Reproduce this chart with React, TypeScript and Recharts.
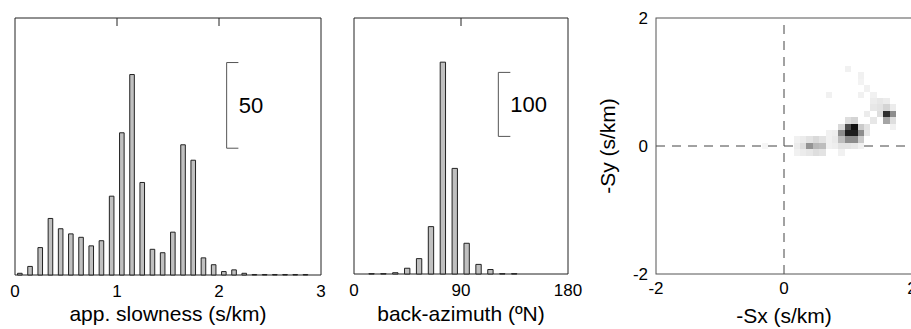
import { ComposedChart, Bar, XAxis, YAxis, ReferenceLine, ReferenceArea, ScatterChart, Scatter, Label } from 'recharts';

const FONT = '"Liberation Sans", Arial, Helvetica, sans-serif';

// app. slowness histogram (0.1 s/km bins)
const slownessBins = [
  0.05, 0.15, 0.25, 0.35, 0.45, 0.55, 0.65, 0.75, 0.85, 0.95,
  1.05, 1.15, 1.25, 1.35, 1.45, 1.55, 1.65, 1.75, 1.85, 1.95,
  2.05, 2.15, 2.25, 2.35, 2.45, 2.55, 2.65, 2.75, 2.85, 2.95,
];
const slownessCounts = [
  1, 5, 16, 33, 27, 24, 22, 17, 20, 46,
  83, 117, 54, 15, 13, 25, 76, 67, 10, 6,
  2, 3, 1, 0.3, 0.3, 0.3, 0.3, 0.3, 0.3, 0,
];
const slownessTicks = [0, 1, 2, 3];
const slownessTopTicks = [1, 2];

// back-azimuth histogram (10 deg bins)
const azimuthBins = [5, 15, 25, 35, 45, 55, 65, 75, 85, 95, 105, 115, 125, 135, 145, 155, 165, 175];
const azimuthCounts = [0, 0.5, 0.5, 2, 9, 24, 74, 331, 165, 48, 15, 7, 0.5, 0.5, 0, 0, 0, 0];
const azimuthTicks = [0, 90, 180];
const azimuthTopTicks = [90];

// slowness vector density, cells of 0.1 s/km: [-Sx, -Sy, darkness 0..1]
const heatCells: [number, number, number][] = [
  [-0.3, 0.0, 0.04],
  [0.2, 0.1, 0.06], [0.2, 0.0, 0.08], [0.2, -0.1, 0.06],
  [0.3, 0.1, 0.08], [0.3, 0.0, 0.14], [0.3, -0.1, 0.08],
  [0.4, 0.1, 0.12], [0.4, 0.0, 0.45], [0.4, -0.1, 0.1],
  [0.5, 0.1, 0.16], [0.5, 0.0, 0.3], [0.5, -0.1, 0.14],
  [0.6, 0.1, 0.12], [0.6, 0.0, 0.28], [0.6, -0.1, 0.12],
  [0.7, 0.2, 0.06], [0.7, 0.1, 0.06], [0.7, 0.0, 0.06], [0.7, 0.8, 0.06],
  [0.8, 0.2, 0.07], [0.8, 0.1, 0.09], [0.8, 0.0, 0.07],
  [0.9, 0.3, 0.16], [0.9, 0.2, 0.48], [0.9, 0.1, 0.28], [0.9, 0.0, 0.12], [0.9, -0.1, 0.06],
  [1.0, 0.4, 0.14], [1.0, 0.3, 0.75], [1.0, 0.2, 0.95], [1.0, 0.1, 0.48], [1.0, 0.0, 0.12], [1.0, 1.2, 0.06],
  [1.1, 0.4, 0.18], [1.1, 0.3, 1.0], [1.1, 0.2, 0.95], [1.1, 0.1, 0.48], [1.1, 0.0, 0.1],
  [1.2, 0.3, 0.22], [1.2, 0.2, 0.48], [1.2, 0.1, 0.22], [1.2, 0.0, 0.06], [1.2, 0.8, 0.06], [1.2, 1.0, 0.05], [1.2, 1.1, 0.06],
  [1.3, 0.5, 0.08], [1.3, 0.3, 0.12], [1.3, 0.2, 0.1], [1.3, 0.9, 0.06],
  [1.4, 0.8, 0.06], [1.4, 0.7, 0.08], [1.4, 0.6, 0.1], [1.4, 0.4, 0.1],
  [1.5, 0.7, 0.1], [1.5, 0.6, 0.12], [1.5, 0.5, 0.14],
  [1.6, 0.7, 0.08], [1.6, 0.6, 0.18], [1.6, 0.5, 0.88], [1.6, 0.4, 0.38],
  [1.7, 0.6, 0.08], [1.7, 0.5, 0.48], [1.7, 0.4, 0.14], [1.7, 0.3, 0.06],
];
const sxTicks = [-2, 0, 2];
const syTicks = [-2, 0, 2];

const slownessData = slownessBins.map((bin, i) => ({ bin, count: slownessCounts[i] }));
const azimuthData = azimuthBins.map((bin, i) => ({ bin, count: azimuthCounts[i] }));
const heatData = heatCells.map(([sx, sy, level]) => ({ sx, sy, level }));

const tickStyle = { fontSize: 17, fill: '#000' };
const titleStyle = { fontSize: 21, fill: '#000' };

// short inward tick hanging from the top frame
const TopTick = (props: any) => {
  const { cx, cy } = props;
  return <line x1={cx} y1={cy} x2={cx} y2={cy + 8} stroke="#222" strokeWidth={1} />;
};

type HistProps = {
  data: { bin: number; count: number }[];
  width: number;
  margin: { top: number; right: number; bottom: number; left: number };
  axisHeight: number;
  xDomain: [number, number];
  yMax: number;
  ticks: number[];
  topTicks: number[];
  title: string;
  scale: { x: number; arm: number; from: number; size: number };
};

const Histogram = ({ data, width, margin, axisHeight, xDomain, yMax, ticks, topTicks, title, scale }: HistProps) => {
  const plotWidth = width - margin.left - margin.right;
  const barSize = plotWidth / data.length;
  const scaleTop = scale.from + scale.size;
  const tickData = topTicks.map((t) => ({ bin: t, count: yMax }));
  return (
    <ComposedChart width={width} height={329} data={data} margin={margin}>
      <XAxis
        dataKey="bin"
        type="number"
        domain={xDomain}
        ticks={ticks}
        height={axisHeight}
        axisLine={false}
        tickLine={false}
        tickMargin={4}
        tick={tickStyle}
      >
        <Label value={title} position="insideBottom" offset={8} style={titleStyle} />
      </XAxis>
      <YAxis domain={[0, yMax]} width={0} axisLine={false} tick={false} tickLine={false} />
      <ReferenceArea x1={xDomain[0]} x2={xDomain[1]} y1={0} y2={yMax} fill="none" stroke="#222" strokeWidth={1} />
      <Bar dataKey="count" fill="#c0c0c0" stroke="#222" strokeWidth={1} barSize={barSize} isAnimationActive={false} />
      <Scatter data={tickData} dataKey="count" shape={TopTick} isAnimationActive={false} />
      <ReferenceLine
        segment={[{ x: scale.x, y: scale.from }, { x: scale.x, y: scaleTop }]}
        stroke="#555"
        label={{ value: String(scale.size), position: 'right', offset: 12, fontSize: 22, fill: '#000' }}
      />
      <ReferenceLine segment={[{ x: scale.x, y: scaleTop }, { x: scale.arm, y: scaleTop }]} stroke="#555" />
      <ReferenceLine segment={[{ x: scale.x, y: scale.from }, { x: scale.arm, y: scale.from }]} stroke="#555" />
    </ComposedChart>
  );
};

const MAP_PLOT = 256;
const CELL_PX = MAP_PLOT / 40;

const HeatCell = (props: any) => {
  const { cx, cy, payload } = props;
  const g = Math.round(255 * (1 - payload.level * 0.93));
  return (
    <rect
      x={cx - CELL_PX / 2}
      y={cy - CELL_PX / 2}
      width={CELL_PX}
      height={CELL_PX}
      fill={`rgb(${g},${g},${g})`}
      shapeRendering="crispEdges"
    />
  );
};

// plot frame, centred on the origin of the slowness plane
const MapFrame = (props: any) => {
  const { cx, cy } = props;
  return (
    <rect
      x={cx - MAP_PLOT / 2}
      y={cy - MAP_PLOT / 2}
      width={MAP_PLOT}
      height={MAP_PLOT}
      fill="none"
      stroke="#555"
      strokeWidth={1}
    />
  );
};
const frameData = [{ sx: 0, sy: 0 }];

const SlownessMap = () => {
  return (
    <ScatterChart width={360} height={329} margin={{ top: 18, right: 8, bottom: 0, left: 0 }}>
      <XAxis
        dataKey="sx"
        type="number"
        domain={[-2, 2]}
        ticks={sxTicks}
        height={55}
        axisLine={false}
        tickLine={false}
        tickMargin={2}
        tick={tickStyle}
      >
        <Label value="-Sx (s/km)" position="insideBottom" offset={6} style={titleStyle} />
      </XAxis>
      <YAxis
        dataKey="sy"
        type="number"
        domain={[-2, 2]}
        ticks={syTicks}
        width={96}
        axisLine={false}
        tickLine={false}
        tick={tickStyle}
      >
        <Label value="-Sy (s/km)" angle={-90} position="insideLeft" offset={48} style={{ ...titleStyle, textAnchor: 'middle' }} />
      </YAxis>
      <Scatter data={heatData} shape={HeatCell} isAnimationActive={false} />
      <Scatter data={frameData} shape={MapFrame} isAnimationActive={false} />
      <ReferenceLine x={0} stroke="#444" strokeDasharray="9 7" />
      <ReferenceLine y={0} stroke="#444" strokeDasharray="9 7" />
    </ScatterChart>
  );
};

export default function App() {
  return (
    <div
      style={{
        position: 'absolute',
        left: 0,
        top: 0,
        width: 911,
        height: 329,
        overflow: 'hidden',
        background: '#fff',
        fontFamily: FONT,
      }}
    >
      <div style={{ position: 'absolute', left: 0, top: 0 }}>
        <Histogram
          data={slownessData}
          width={340}
          margin={{ top: 18, right: 19, bottom: 0, left: 15 }}
          axisHeight={54}
          xDomain={[0, 3]}
          yMax={150}
          ticks={slownessTicks}
          topTicks={slownessTopTicks}
          title="app. slowness (s/km)"
          scale={{ x: 2.075, arm: 2.19, from: 74, size: 50 }}
        />
      </div>
      <div style={{ position: 'absolute', left: 335, top: 0 }}>
        <Histogram
          data={azimuthData}
          width={255}
          margin={{ top: 18, right: 22, bottom: 0, left: 19 }}
          axisHeight={55}
          xDomain={[0, 180]}
          yMax={400}
          ticks={azimuthTicks}
          topTicks={azimuthTopTicks}
          title="back-azimuth (ºN)"
          scale={{ x: 121.4, arm: 131.5, from: 215, size: 100 }}
        />
      </div>
      <div style={{ position: 'absolute', left: 560, top: 0 }}>
        <SlownessMap />
      </div>
    </div>
  );
}
